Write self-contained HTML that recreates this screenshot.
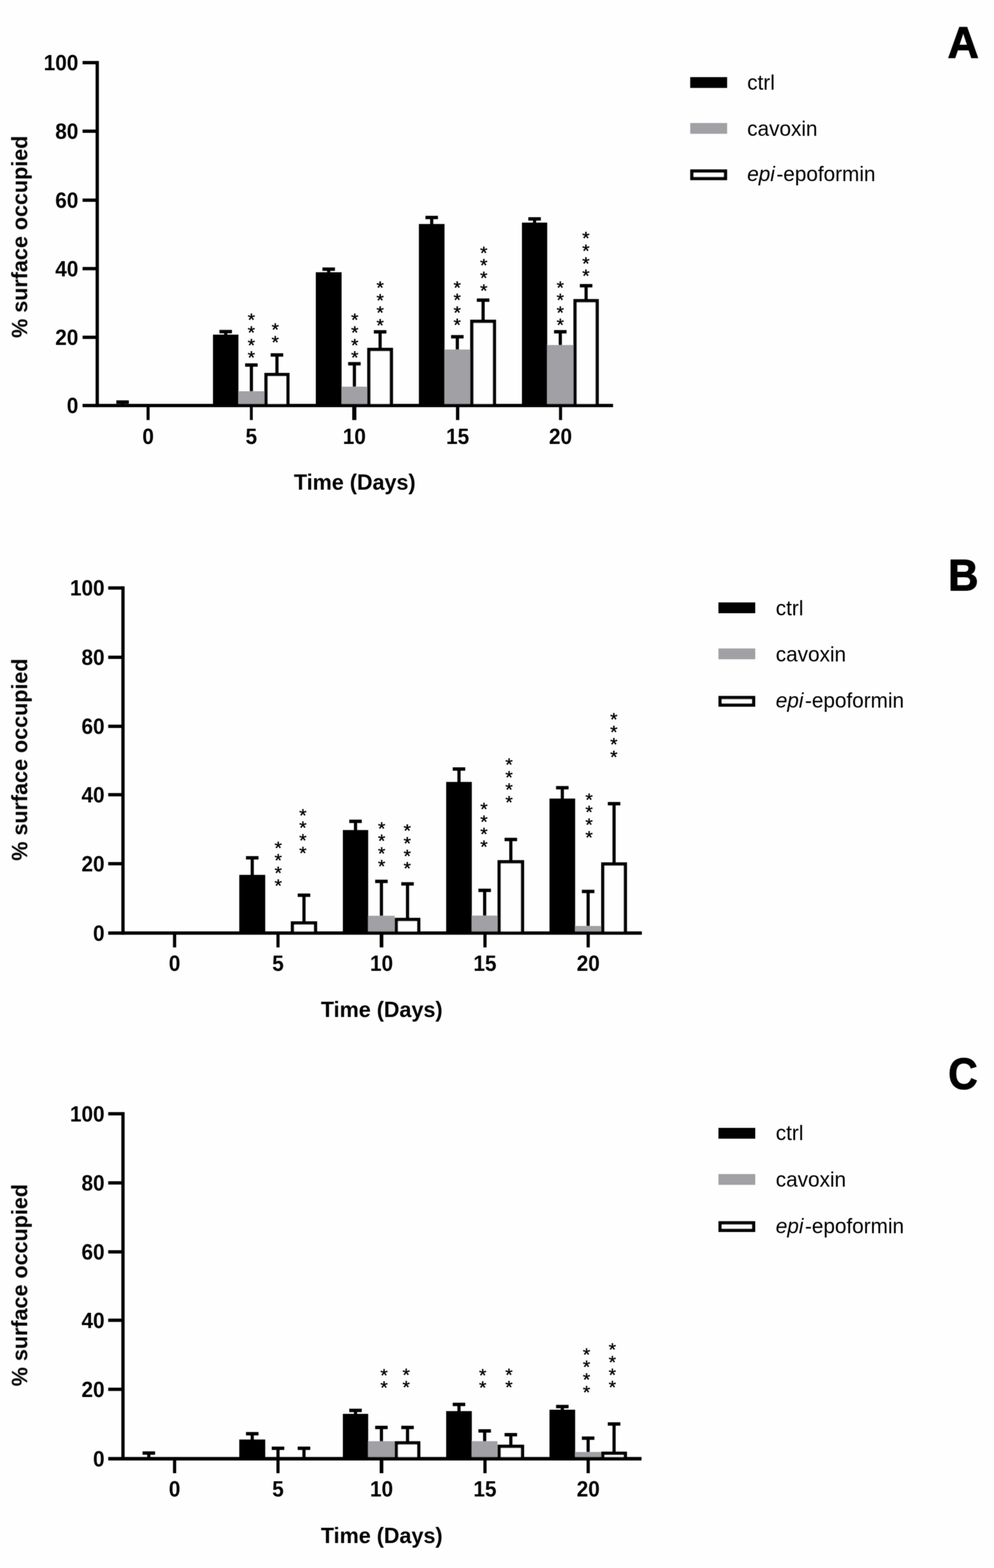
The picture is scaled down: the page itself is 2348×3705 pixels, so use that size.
<!DOCTYPE html>
<html lang="en"><head><meta charset="utf-8"><title>Surface occupied over time</title>
<style>
html,body{margin:0;padding:0;background:#fff;}
body{width:2348px;height:3705px;overflow:hidden;}
svg{display:block;}
text{font-family:"Liberation Sans",Arial,Helvetica,sans-serif;fill:#000;}
.tk{font-weight:bold;font-size:49px;}
.tt{font-weight:bold;font-size:50.9px;}
.lg{font-size:49px;}
.lt{font-weight:bold;font-size:100px;stroke:#000;stroke-width:2px;stroke-linejoin:miter;}
.st{font-size:45px;stroke:#000;stroke-width:0.7px;}
.k{fill:#000;}
.g{fill:#a1a0a4;}
.wi{fill:#fefefe;}
</style></head><body>
<svg width="2348" height="3705" viewBox="0 0 2348 3705">
<defs><filter id="soft" x="0" y="0" width="2348" height="3705" filterUnits="userSpaceOnUse"><feGaussianBlur in="SourceGraphic" stdDeviation="1" result="b"/><feComposite in="SourceGraphic" in2="b" operator="arithmetic" k1="0" k2="0.45" k3="0.55" k4="0"/></filter></defs>
<rect x="0" y="0" width="2348" height="3705" fill="#fefefe"/>
<g filter="url(#soft)">
<g id="panel-a">
<rect class="k" x="285.85" y="950" width="7.5" height="9.2"/>
<rect class="k" x="274.8" y="946" width="29.6" height="8"/>
<rect class="k" x="529.4" y="783.5" width="7.5" height="8.2"/>
<rect class="k" x="518.35" y="779.5" width="29.6" height="8"/>
<rect class="k" x="503.1" y="790.7" width="60.1" height="167.5"/>
<rect class="k" x="590.1" y="862.5" width="7.5" height="62.9"/>
<rect class="k" x="579.05" y="858.5" width="29.6" height="8"/>
<rect class="g" x="563.2" y="924.4" width="61.3" height="33.8"/>
<rect class="k" x="650.45" y="838.7" width="7.5" height="43.4"/>
<rect class="k" x="639.4" y="834.7" width="29.6" height="8"/>
<rect class="k" x="624.5" y="881.1" width="59.4" height="77.1"/>
<rect class="wi" x="632.4" y="889" width="43.6" height="69.2"/>
<rect class="k" x="772.7" y="636" width="7.5" height="8.3"/>
<rect class="k" x="761.65" y="632" width="29.6" height="8"/>
<rect class="k" x="746" y="643.3" width="60.9" height="314.9"/>
<rect class="k" x="833.4" y="859.5" width="7.5" height="55.1"/>
<rect class="k" x="822.35" y="855.5" width="29.6" height="8"/>
<rect class="g" x="806.9" y="913.6" width="60.5" height="44.6"/>
<rect class="k" x="894.15" y="784.1" width="7.5" height="38.7"/>
<rect class="k" x="883.1" y="780.1" width="29.6" height="8"/>
<rect class="k" x="867.4" y="821.8" width="61" height="136.4"/>
<rect class="wi" x="875.3" y="829.7" width="45.2" height="128.5"/>
<rect class="k" x="1016" y="513.9" width="7.5" height="16.4"/>
<rect class="k" x="1004.95" y="509.9" width="29.6" height="8"/>
<rect class="k" x="989.5" y="529.3" width="60.5" height="428.9"/>
<rect class="k" x="1076.55" y="795.7" width="7.5" height="31.1"/>
<rect class="k" x="1065.5" y="791.7" width="29.6" height="8"/>
<rect class="g" x="1050" y="825.8" width="60.6" height="132.4"/>
<rect class="k" x="1137.45" y="709.2" width="7.5" height="47.2"/>
<rect class="k" x="1126.4" y="705.2" width="29.6" height="8"/>
<rect class="k" x="1110.6" y="755.4" width="61.2" height="202.8"/>
<rect class="wi" x="1118.5" y="763.3" width="45.4" height="194.9"/>
<rect class="k" x="1259" y="517.2" width="7.5" height="9.8"/>
<rect class="k" x="1247.95" y="513.2" width="29.6" height="8"/>
<rect class="k" x="1232.9" y="526" width="59.7" height="432.2"/>
<rect class="k" x="1319.8" y="783.9" width="7.5" height="32.4"/>
<rect class="k" x="1308.75" y="779.9" width="29.6" height="8"/>
<rect class="g" x="1292.6" y="815.3" width="61.9" height="142.9"/>
<rect class="k" x="1380.75" y="675.1" width="7.5" height="32.5"/>
<rect class="k" x="1369.7" y="671.1" width="29.6" height="8"/>
<rect class="k" x="1354.5" y="706.6" width="60" height="251.6"/>
<rect class="wi" x="1362.4" y="714.5" width="44.2" height="243.7"/>
<rect class="k" x="225.8" y="144.1" width="7.8" height="818"/>
<rect class="k" x="195" y="954.3" width="1253.2" height="7.8"/>
<rect class="k" x="195" y="144.1" width="34.7" height="7.8"/>
<rect class="k" x="195" y="306.1" width="34.7" height="7.8"/>
<rect class="k" x="195" y="469.1" width="34.7" height="7.8"/>
<rect class="k" x="195" y="630.8" width="34.7" height="7.8"/>
<rect class="k" x="195" y="793.1" width="34.7" height="7.8"/>
<rect class="k" x="346.2" y="958.2" width="7.2" height="34.3"/>
<rect class="k" x="590.3" y="958.2" width="6.8" height="34.3"/>
<rect class="k" x="832" y="958.2" width="9.8" height="34.3"/>
<rect class="k" x="1077.1" y="958.2" width="7.8" height="34.3"/>
<rect class="k" x="1320.5" y="958.2" width="7.2" height="34.3"/>
<text class="tk" text-anchor="end" transform="translate(185 165.9) scale(1 1.055)">100</text>
<text class="tk" text-anchor="end" transform="translate(185 327.9) scale(1 1.055)">80</text>
<text class="tk" text-anchor="end" transform="translate(185 490.9) scale(1 1.055)">60</text>
<text class="tk" text-anchor="end" transform="translate(185 652.6) scale(1 1.055)">40</text>
<text class="tk" text-anchor="end" transform="translate(185 814.9) scale(1 1.055)">20</text>
<text class="tk" text-anchor="end" transform="translate(185 976.1) scale(1 1.055)">0</text>
<text class="tk" text-anchor="middle" transform="translate(349.8 1048.6) scale(1 1.055)">0</text>
<text class="tk" text-anchor="middle" transform="translate(593.7 1048.6) scale(1 1.055)">5</text>
<text class="tk" text-anchor="middle" transform="translate(836.9 1048.6) scale(1 1.055)">10</text>
<text class="tk" text-anchor="middle" transform="translate(1081 1048.6) scale(1 1.055)">15</text>
<text class="tk" text-anchor="middle" transform="translate(1324.1 1048.6) scale(1 1.055)">20</text>
<text class="tt" text-anchor="middle" transform="translate(838 1157.3) scale(1 1.035)">Time (Days)</text>
<text class="tt" text-anchor="middle" transform="translate(63.8 559.4) rotate(-90) scale(1 1.035)">% surface occupied</text>
<text class="st" text-anchor="middle" transform="translate(593.8 770.344) scale(1 0.93)">*</text>
<text class="st" text-anchor="middle" transform="translate(593.8 799.994) scale(1 0.93)">*</text>
<text class="st" text-anchor="middle" transform="translate(593.8 829.644) scale(1 0.93)">*</text>
<text class="st" text-anchor="middle" transform="translate(593.8 859.294) scale(1 0.93)">*</text>
<text class="st" text-anchor="middle" transform="translate(650.3 793.044) scale(1 0.93)">*</text>
<text class="st" text-anchor="middle" transform="translate(650.3 822.694) scale(1 0.93)">*</text>
<text class="st" text-anchor="middle" transform="translate(837.9 770.344) scale(1 0.93)">*</text>
<text class="st" text-anchor="middle" transform="translate(837.9 799.994) scale(1 0.93)">*</text>
<text class="st" text-anchor="middle" transform="translate(837.9 829.644) scale(1 0.93)">*</text>
<text class="st" text-anchor="middle" transform="translate(837.9 859.294) scale(1 0.93)">*</text>
<text class="st" text-anchor="middle" transform="translate(897.9 694.044) scale(1 0.93)">*</text>
<text class="st" text-anchor="middle" transform="translate(897.9 723.694) scale(1 0.93)">*</text>
<text class="st" text-anchor="middle" transform="translate(897.9 753.344) scale(1 0.93)">*</text>
<text class="st" text-anchor="middle" transform="translate(897.9 782.994) scale(1 0.93)">*</text>
<text class="st" text-anchor="middle" transform="translate(1080 693.544) scale(1 0.93)">*</text>
<text class="st" text-anchor="middle" transform="translate(1080 723.194) scale(1 0.93)">*</text>
<text class="st" text-anchor="middle" transform="translate(1080 752.844) scale(1 0.93)">*</text>
<text class="st" text-anchor="middle" transform="translate(1080 782.494) scale(1 0.93)">*</text>
<text class="st" text-anchor="middle" transform="translate(1142.8 611.744) scale(1 0.93)">*</text>
<text class="st" text-anchor="middle" transform="translate(1142.8 641.394) scale(1 0.93)">*</text>
<text class="st" text-anchor="middle" transform="translate(1142.8 671.044) scale(1 0.93)">*</text>
<text class="st" text-anchor="middle" transform="translate(1142.8 700.694) scale(1 0.93)">*</text>
<text class="st" text-anchor="middle" transform="translate(1323.5 693.544) scale(1 0.93)">*</text>
<text class="st" text-anchor="middle" transform="translate(1323.5 723.194) scale(1 0.93)">*</text>
<text class="st" text-anchor="middle" transform="translate(1323.5 752.844) scale(1 0.93)">*</text>
<text class="st" text-anchor="middle" transform="translate(1323.5 782.494) scale(1 0.93)">*</text>
<text class="st" text-anchor="middle" transform="translate(1384.1 577.344) scale(1 0.93)">*</text>
<text class="st" text-anchor="middle" transform="translate(1384.1 606.994) scale(1 0.93)">*</text>
<text class="st" text-anchor="middle" transform="translate(1384.1 636.644) scale(1 0.93)">*</text>
<text class="st" text-anchor="middle" transform="translate(1384.1 666.294) scale(1 0.93)">*</text>
<rect class="k" x="1630.4" y="182.25" width="87.2" height="25.5"/>
<rect class="g" x="1630.4" y="290.65" width="87.2" height="25.5"/>
<rect class="k" x="1630.4" y="400.25" width="87.2" height="25.5"/>
<rect class="wi" x="1638.3" y="408.15" width="71.4" height="9.7"/>
<text class="lg" transform="translate(1765 211.8) scale(1 1.035)">ctrl</text>
<text class="lg" transform="translate(1765 320.6) scale(1 1.035)">cavoxin</text>
<text class="lg" transform="translate(1765 428.4) scale(1 1.035)"><tspan font-style="italic">epi</tspan><tspan dx="3.5">-epoformin</tspan></text>
<text class="lt" text-anchor="middle" transform="translate(2275.3 135.8) scale(1.02 1.045)">A</text>
</g>
<g id="panel-b">
<rect class="k" x="592.1" y="2026.9" width="7.5" height="41.3"/>
<rect class="k" x="581.05" y="2022.9" width="29.6" height="8"/>
<rect class="k" x="565.2" y="2067.2" width="61.3" height="137.5"/>
<rect class="k" x="714.3" y="2115.3" width="7.5" height="62.6"/>
<rect class="k" x="703.25" y="2111.3" width="29.6" height="8"/>
<rect class="k" x="686.9" y="2176.9" width="62.3" height="27.8"/>
<rect class="wi" x="694.8" y="2184.8" width="46.5" height="19.9"/>
<rect class="k" x="836.05" y="1940.7" width="7.5" height="21.6"/>
<rect class="k" x="825" y="1936.7" width="29.6" height="8"/>
<rect class="k" x="809.9" y="1961.3" width="59.8" height="243.4"/>
<rect class="k" x="897.25" y="2082.6" width="7.5" height="82.2"/>
<rect class="k" x="886.2" y="2078.6" width="29.6" height="8"/>
<rect class="g" x="869.7" y="2163.8" width="62.6" height="40.9"/>
<rect class="k" x="958.9" y="2088.5" width="7.5" height="81.2"/>
<rect class="k" x="947.85" y="2084.5" width="29.6" height="8"/>
<rect class="k" x="932.3" y="2168.7" width="60.7" height="36"/>
<rect class="wi" x="940.2" y="2176.6" width="44.9" height="28.1"/>
<rect class="k" x="1080.45" y="1817.1" width="7.5" height="31.5"/>
<rect class="k" x="1069.4" y="1813.1" width="29.6" height="8"/>
<rect class="k" x="1053.9" y="1847.6" width="60.6" height="357.1"/>
<rect class="k" x="1141.1" y="2103.8" width="7.5" height="60.6"/>
<rect class="k" x="1130.05" y="2099.8" width="29.6" height="8"/>
<rect class="g" x="1114.5" y="2163.4" width="60.7" height="41.3"/>
<rect class="k" x="1202.9" y="1983.6" width="7.5" height="49.8"/>
<rect class="k" x="1191.85" y="1979.6" width="29.6" height="8"/>
<rect class="k" x="1175.2" y="2032.4" width="62.9" height="172.3"/>
<rect class="wi" x="1183.1" y="2040.3" width="47.1" height="164.4"/>
<rect class="k" x="1324.55" y="1861.3" width="7.5" height="26.6"/>
<rect class="k" x="1313.5" y="1857.3" width="29.6" height="8"/>
<rect class="k" x="1298" y="1886.9" width="60.6" height="317.8"/>
<rect class="k" x="1385.55" y="2106.4" width="7.5" height="82.6"/>
<rect class="k" x="1374.5" y="2102.4" width="29.6" height="8"/>
<rect class="g" x="1358.6" y="2188" width="61.4" height="16.7"/>
<rect class="k" x="1446.8" y="1899" width="7.5" height="139.6"/>
<rect class="k" x="1435.75" y="1895" width="29.6" height="8"/>
<rect class="k" x="1420" y="2037.6" width="61.1" height="167.1"/>
<rect class="wi" x="1427.9" y="2045.5" width="45.3" height="159.2"/>
<rect class="k" x="286.6" y="1385.4" width="7.8" height="823.25"/>
<rect class="k" x="255.6" y="2200.75" width="1260.6" height="7.9"/>
<rect class="k" x="255.6" y="1385.4" width="34.9" height="7.8"/>
<rect class="k" x="255.6" y="1549.2" width="34.9" height="7.8"/>
<rect class="k" x="255.6" y="1712.3" width="34.9" height="7.8"/>
<rect class="k" x="255.6" y="1873.9" width="34.9" height="7.8"/>
<rect class="k" x="255.6" y="2036.9" width="34.9" height="7.8"/>
<rect class="k" x="408.6" y="2204.7" width="7.6" height="33.9"/>
<rect class="k" x="653" y="2204.7" width="7.4" height="33.9"/>
<rect class="k" x="896.9" y="2204.7" width="8.6" height="33.9"/>
<rect class="k" x="1141.8" y="2204.7" width="7.6" height="33.9"/>
<rect class="k" x="1385.6" y="2204.7" width="7.6" height="33.9"/>
<text class="tk" text-anchor="end" transform="translate(247 1407.2) scale(1 1.055)">100</text>
<text class="tk" text-anchor="end" transform="translate(247 1571) scale(1 1.055)">80</text>
<text class="tk" text-anchor="end" transform="translate(247 1734.1) scale(1 1.055)">60</text>
<text class="tk" text-anchor="end" transform="translate(247 1895.7) scale(1 1.055)">40</text>
<text class="tk" text-anchor="end" transform="translate(247 2058.7) scale(1 1.055)">20</text>
<text class="tk" text-anchor="end" transform="translate(247 2222.6) scale(1 1.055)">0</text>
<text class="tk" text-anchor="middle" transform="translate(412.4 2293.6) scale(1 1.055)">0</text>
<text class="tk" text-anchor="middle" transform="translate(656.7 2293.6) scale(1 1.055)">5</text>
<text class="tk" text-anchor="middle" transform="translate(901.2 2293.6) scale(1 1.055)">10</text>
<text class="tk" text-anchor="middle" transform="translate(1145.6 2293.6) scale(1 1.055)">15</text>
<text class="tk" text-anchor="middle" transform="translate(1389.4 2293.6) scale(1 1.055)">20</text>
<text class="tt" text-anchor="middle" transform="translate(901.7 2403) scale(1 1.035)">Time (Days)</text>
<text class="tt" text-anchor="middle" transform="translate(63.8 1794.8) rotate(-90) scale(1 1.035)">% surface occupied</text>
<text class="st" text-anchor="middle" transform="translate(657.3 2017.744) scale(1 0.93)">*</text>
<text class="st" text-anchor="middle" transform="translate(657.3 2047.394) scale(1 0.93)">*</text>
<text class="st" text-anchor="middle" transform="translate(657.3 2077.044) scale(1 0.93)">*</text>
<text class="st" text-anchor="middle" transform="translate(657.3 2106.694) scale(1 0.93)">*</text>
<text class="st" text-anchor="middle" transform="translate(715.6 1940.744) scale(1 0.93)">*</text>
<text class="st" text-anchor="middle" transform="translate(715.6 1970.394) scale(1 0.93)">*</text>
<text class="st" text-anchor="middle" transform="translate(715.6 2000.044) scale(1 0.93)">*</text>
<text class="st" text-anchor="middle" transform="translate(715.6 2029.694) scale(1 0.93)">*</text>
<text class="st" text-anchor="middle" transform="translate(901.4 1971.844) scale(1 0.93)">*</text>
<text class="st" text-anchor="middle" transform="translate(901.4 2001.494) scale(1 0.93)">*</text>
<text class="st" text-anchor="middle" transform="translate(901.4 2031.144) scale(1 0.93)">*</text>
<text class="st" text-anchor="middle" transform="translate(901.4 2060.794) scale(1 0.93)">*</text>
<text class="st" text-anchor="middle" transform="translate(962 1977.444) scale(1 0.93)">*</text>
<text class="st" text-anchor="middle" transform="translate(962 2007.094) scale(1 0.93)">*</text>
<text class="st" text-anchor="middle" transform="translate(962 2036.744) scale(1 0.93)">*</text>
<text class="st" text-anchor="middle" transform="translate(962 2066.394) scale(1 0.93)">*</text>
<text class="st" text-anchor="middle" transform="translate(1143.2 1925.944) scale(1 0.93)">*</text>
<text class="st" text-anchor="middle" transform="translate(1143.2 1955.594) scale(1 0.93)">*</text>
<text class="st" text-anchor="middle" transform="translate(1143.2 1985.244) scale(1 0.93)">*</text>
<text class="st" text-anchor="middle" transform="translate(1143.2 2014.894) scale(1 0.93)">*</text>
<text class="st" text-anchor="middle" transform="translate(1202.5 1821.044) scale(1 0.93)">*</text>
<text class="st" text-anchor="middle" transform="translate(1202.5 1850.694) scale(1 0.93)">*</text>
<text class="st" text-anchor="middle" transform="translate(1202.5 1880.344) scale(1 0.93)">*</text>
<text class="st" text-anchor="middle" transform="translate(1202.5 1909.994) scale(1 0.93)">*</text>
<text class="st" text-anchor="middle" transform="translate(1391.5 1903.644) scale(1 0.93)">*</text>
<text class="st" text-anchor="middle" transform="translate(1391.5 1933.294) scale(1 0.93)">*</text>
<text class="st" text-anchor="middle" transform="translate(1391.5 1962.944) scale(1 0.93)">*</text>
<text class="st" text-anchor="middle" transform="translate(1391.5 1992.594) scale(1 0.93)">*</text>
<text class="st" text-anchor="middle" transform="translate(1449.9 1713.944) scale(1 0.93)">*</text>
<text class="st" text-anchor="middle" transform="translate(1449.9 1743.594) scale(1 0.93)">*</text>
<text class="st" text-anchor="middle" transform="translate(1449.9 1773.244) scale(1 0.93)">*</text>
<text class="st" text-anchor="middle" transform="translate(1449.9 1802.894) scale(1 0.93)">*</text>
<rect class="k" x="1697.1" y="1423.45" width="86.9" height="25.5"/>
<rect class="g" x="1697.1" y="1532.25" width="86.9" height="25.5"/>
<rect class="k" x="1697.1" y="1644.35" width="86.9" height="25.5"/>
<rect class="wi" x="1705" y="1652.25" width="71.1" height="9.7"/>
<text class="lg" transform="translate(1832.5 1453.8) scale(1 1.035)">ctrl</text>
<text class="lg" transform="translate(1832.5 1562.7) scale(1 1.035)">cavoxin</text>
<text class="lg" transform="translate(1832.5 1672) scale(1 1.035)"><tspan font-style="italic">epi</tspan><tspan dx="3.5">-epoformin</tspan></text>
<text class="lt" text-anchor="middle" transform="translate(2275.4 1394.7) scale(0.99 1.045)">B</text>
</g>
<g id="panel-c">
<rect class="k" x="347.75" y="3433.4" width="7.5" height="14.4"/>
<rect class="k" x="336.7" y="3429.4" width="29.6" height="8"/>
<rect class="k" x="592.1" y="3387.7" width="7.5" height="14.7"/>
<rect class="k" x="581.05" y="3383.7" width="29.6" height="8"/>
<rect class="k" x="565.2" y="3401.4" width="61.3" height="45.4"/>
<rect class="k" x="652.95" y="3422.1" width="7.5" height="25.7"/>
<rect class="k" x="641.9" y="3418.1" width="29.6" height="8"/>
<rect class="k" x="714.3" y="3422.1" width="7.5" height="25.7"/>
<rect class="k" x="703.25" y="3418.1" width="29.6" height="8"/>
<rect class="k" x="836.05" y="3332.6" width="7.5" height="9.2"/>
<rect class="k" x="825" y="3328.6" width="29.6" height="8"/>
<rect class="k" x="809.9" y="3340.8" width="59.8" height="106"/>
<rect class="k" x="897.25" y="3372.9" width="7.5" height="33.5"/>
<rect class="k" x="886.2" y="3368.9" width="29.6" height="8"/>
<rect class="g" x="869.7" y="3405.4" width="62.6" height="41.4"/>
<rect class="k" x="958.9" y="3372.9" width="7.5" height="33.5"/>
<rect class="k" x="947.85" y="3368.9" width="29.6" height="8"/>
<rect class="k" x="932.3" y="3405.4" width="60.7" height="41.4"/>
<rect class="wi" x="940.2" y="3413.3" width="44.9" height="33.5"/>
<rect class="k" x="1080.45" y="3318.5" width="7.5" height="16.8"/>
<rect class="k" x="1069.4" y="3314.5" width="29.6" height="8"/>
<rect class="k" x="1053.9" y="3334.3" width="60.6" height="112.5"/>
<rect class="k" x="1141.1" y="3381.1" width="7.5" height="25.3"/>
<rect class="k" x="1130.05" y="3377.1" width="29.6" height="8"/>
<rect class="g" x="1114.5" y="3405.4" width="60.7" height="41.4"/>
<rect class="k" x="1202.9" y="3390" width="7.5" height="24.6"/>
<rect class="k" x="1191.85" y="3386" width="29.6" height="8"/>
<rect class="k" x="1175.2" y="3413.6" width="62.9" height="33.2"/>
<rect class="wi" x="1183.1" y="3421.5" width="47.1" height="25.3"/>
<rect class="k" x="1324.55" y="3323.5" width="7.5" height="8.5"/>
<rect class="k" x="1313.5" y="3319.5" width="29.6" height="8"/>
<rect class="k" x="1298" y="3331" width="60.6" height="115.8"/>
<rect class="k" x="1385.55" y="3398.2" width="7.5" height="33.7"/>
<rect class="k" x="1374.5" y="3394.2" width="29.6" height="8"/>
<rect class="g" x="1358.6" y="3430.9" width="61.4" height="15.9"/>
<rect class="k" x="1446.8" y="3364.7" width="7.5" height="66.3"/>
<rect class="k" x="1435.75" y="3360.7" width="29.6" height="8"/>
<rect class="k" x="1420" y="3430" width="61.1" height="16.8"/>
<rect class="wi" x="1427.9" y="3437.9" width="45.3" height="8.9"/>
<rect class="k" x="286.6" y="2627.8" width="7.8" height="823.15"/>
<rect class="k" x="255.6" y="3442.65" width="1259.8" height="8.3"/>
<rect class="k" x="255.6" y="2627.8" width="34.9" height="7.8"/>
<rect class="k" x="255.6" y="2791.1" width="34.9" height="7.8"/>
<rect class="k" x="255.6" y="2954.1" width="34.9" height="7.8"/>
<rect class="k" x="255.6" y="3115.7" width="34.9" height="7.8"/>
<rect class="k" x="255.6" y="3278.9" width="34.9" height="7.8"/>
<rect class="k" x="408.6" y="3446.8" width="7.6" height="34.2"/>
<rect class="k" x="653" y="3446.8" width="7.4" height="34.2"/>
<rect class="k" x="896.9" y="3446.8" width="8.6" height="34.2"/>
<rect class="k" x="1141.8" y="3446.8" width="7.6" height="34.2"/>
<rect class="k" x="1385.6" y="3446.8" width="7.6" height="34.2"/>
<text class="tk" text-anchor="end" transform="translate(247 2649.6) scale(1 1.055)">100</text>
<text class="tk" text-anchor="end" transform="translate(247 2812.9) scale(1 1.055)">80</text>
<text class="tk" text-anchor="end" transform="translate(247 2975.9) scale(1 1.055)">60</text>
<text class="tk" text-anchor="end" transform="translate(247 3137.5) scale(1 1.055)">40</text>
<text class="tk" text-anchor="end" transform="translate(247 3300.7) scale(1 1.055)">20</text>
<text class="tk" text-anchor="end" transform="translate(247 3464.7) scale(1 1.055)">0</text>
<text class="tk" text-anchor="middle" transform="translate(412.4 3536.2) scale(1 1.055)">0</text>
<text class="tk" text-anchor="middle" transform="translate(656.7 3536.2) scale(1 1.055)">5</text>
<text class="tk" text-anchor="middle" transform="translate(901.2 3536.2) scale(1 1.055)">10</text>
<text class="tk" text-anchor="middle" transform="translate(1145.6 3536.2) scale(1 1.055)">15</text>
<text class="tk" text-anchor="middle" transform="translate(1389.4 3536.2) scale(1 1.055)">20</text>
<text class="tt" text-anchor="middle" transform="translate(901.7 3646.3) scale(1 1.035)">Time (Days)</text>
<text class="tt" text-anchor="middle" transform="translate(63.8 3036.6) rotate(-90) scale(1 1.035)">% surface occupied</text>
<text class="st" text-anchor="middle" transform="translate(907.3 3263.544) scale(1 0.93)">*</text>
<text class="st" text-anchor="middle" transform="translate(907.3 3293.194) scale(1 0.93)">*</text>
<text class="st" text-anchor="middle" transform="translate(959.4 3262.844) scale(1 0.93)">*</text>
<text class="st" text-anchor="middle" transform="translate(959.4 3292.494) scale(1 0.93)">*</text>
<text class="st" text-anchor="middle" transform="translate(1140.2 3263.544) scale(1 0.93)">*</text>
<text class="st" text-anchor="middle" transform="translate(1140.2 3293.194) scale(1 0.93)">*</text>
<text class="st" text-anchor="middle" transform="translate(1202.2 3262.844) scale(1 0.93)">*</text>
<text class="st" text-anchor="middle" transform="translate(1202.2 3292.494) scale(1 0.93)">*</text>
<text class="st" text-anchor="middle" transform="translate(1385.6 3214.744) scale(1 0.93)">*</text>
<text class="st" text-anchor="middle" transform="translate(1385.6 3244.394) scale(1 0.93)">*</text>
<text class="st" text-anchor="middle" transform="translate(1385.6 3274.044) scale(1 0.93)">*</text>
<text class="st" text-anchor="middle" transform="translate(1385.6 3303.694) scale(1 0.93)">*</text>
<text class="st" text-anchor="middle" transform="translate(1446.6 3203.244) scale(1 0.93)">*</text>
<text class="st" text-anchor="middle" transform="translate(1446.6 3232.894) scale(1 0.93)">*</text>
<text class="st" text-anchor="middle" transform="translate(1446.6 3262.544) scale(1 0.93)">*</text>
<text class="st" text-anchor="middle" transform="translate(1446.6 3292.194) scale(1 0.93)">*</text>
<rect class="k" x="1697.1" y="2665.05" width="86.9" height="25.5"/>
<rect class="g" x="1697.1" y="2774.15" width="86.9" height="25.5"/>
<rect class="k" x="1697.1" y="2885.55" width="86.9" height="25.5"/>
<rect class="wi" x="1705" y="2893.45" width="71.1" height="9.7"/>
<text class="lg" transform="translate(1832.5 2694.1) scale(1 1.035)">ctrl</text>
<text class="lg" transform="translate(1832.5 2803.9) scale(1 1.035)">cavoxin</text>
<text class="lg" transform="translate(1832.5 2913.6) scale(1 1.035)"><tspan font-style="italic">epi</tspan><tspan dx="3.5">-epoformin</tspan></text>
<text class="lt" text-anchor="middle" transform="translate(2274.6 2573) scale(0.96 1.045)">C</text>
</g>
</g>
</svg></body></html>
